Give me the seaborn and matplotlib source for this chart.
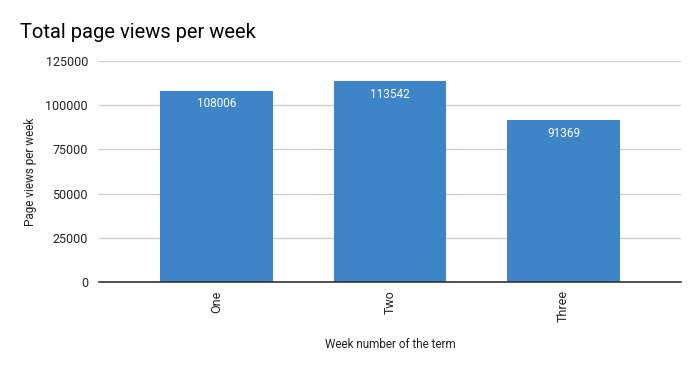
import matplotlib
matplotlib.use("Agg")
import matplotlib.pyplot as plt
import seaborn as sns
import pandas as pd

weeks = ["One", "Two", "Three"]
views = [108006, 113542, 91369]
yticks = [0, 25000, 50000, 75000, 100000, 125000]

sns.set_theme(style="white")
plt.rcParams['font.family'] = ['Roboto', 'DejaVu Sans']

df = pd.DataFrame({"week": weeks, "views": views})

fig = plt.figure(figsize=(6.99, 3.71), dpi=100)
ax = fig.add_axes([99/699, 1-282/371, (681-99)/699, (282-61)/371])

sns.barplot(data=df, x="week", y="views", color="#3d85c6", saturation=1,
            width=0.65, ax=ax, zorder=3, linewidth=0)

ax.set_xlim(-0.677, 2.677)
ax.set_ylim(0, 125000)
ax.set_yticks(yticks)
ax.set_yticklabels([str(v) for v in yticks], fontsize=9, color="#222222")
ax.grid(axis="y", color="#cccccc", linewidth=0.9, zorder=0)
ax.set_axisbelow(True)
for s in ["top", "right", "left"]:
    ax.spines[s].set_visible(False)
ax.spines["bottom"].set_color("#333333")
ax.spines["bottom"].set_linewidth(1.2)
ax.spines["bottom"].set_zorder(4)
ax.tick_params(axis="both", length=0, pad=6)
ax.tick_params(axis="y", pad=8)
for lbl in ax.get_xticklabels():
    lbl.set_rotation(90)
    lbl.set_fontsize(9)
    lbl.set_color("#222222")

for cont in ax.containers:
    ax.bar_label(cont, labels=[str(v) for v in views], label_type="edge",
                 padding=-14, color="white", fontsize=8.5)

ax.set_xlabel("Week number of the term", fontsize=8.5, color="#222222", labelpad=11)
ax.set_ylabel("Page views per week", fontsize=8.5, color="#222222", labelpad=6)

fig.text(20/699, 1-38/371, "Total page views per week", fontsize=14.5, color="black",
         ha="left", va="baseline")

fig.savefig("out.png", dpi=100, facecolor="white")
